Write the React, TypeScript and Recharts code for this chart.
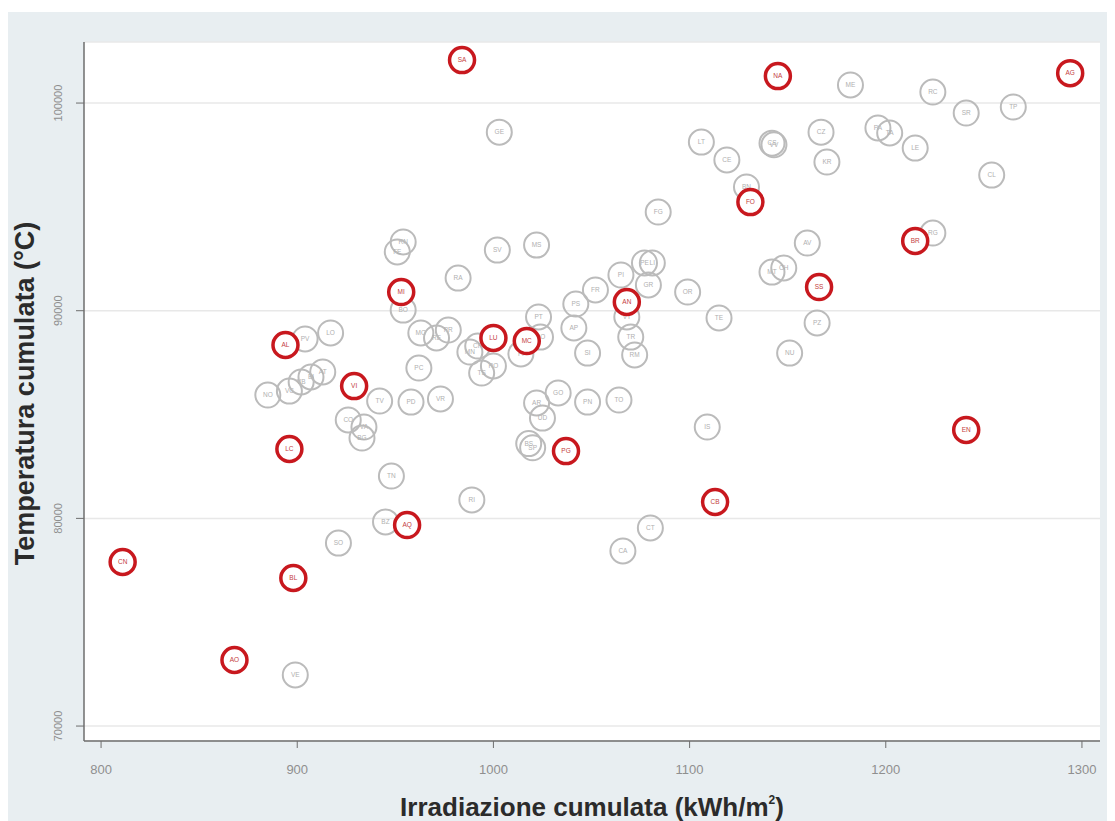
import React from "react";
import { ScatterChart, Scatter, XAxis, YAxis, CartesianGrid, Label } from "recharts";

// province codes, cumulative irradiance (kWh/m2) and cumulative temperature (°C)
const grayCodes = [
  "GE", "ME", "RC", "TP", "SR", "LT", "CE", "CS", "VV", "CZ", "KR", "PA", "TA", "LE", "CL", "BN",
  "RG", "AV", "FG", "MT", "CH", "PZ", "NU", "OR", "TE", "IS", "PE", "LI", "GR", "PI", "FR", "PS",
  "AP", "SI", "VT", "TR", "RM", "SV", "MS", "RA", "RN", "FE", "BO", "PV", "LO", "NO", "VC", "VB",
  "BI", "AT", "TV", "CO", "VA", "BG", "MO", "RE", "PR", "PC", "PD", "VR", "PT", "PO", "FI", "MN",
  "CR", "RO", "TS", "AR", "UD", "GO", "PN", "TO", "BS", "SP", "TN", "BZ", "SO", "RI", "CA", "CT", "VE",
];
const grayIrr = [
  1003, 1182, 1224, 1265, 1241, 1106, 1119, 1142, 1143, 1167, 1170, 1196, 1202, 1215, 1254, 1129,
  1224, 1160, 1084, 1142, 1148, 1165, 1151, 1099, 1115, 1109, 1077, 1081, 1079, 1065, 1052, 1042,
  1041, 1048, 1068, 1070, 1072, 1002, 1022, 982, 954, 951, 954, 904, 917, 885, 896, 902,
  907, 913, 942, 926, 934, 933, 963, 971, 977, 962, 958, 973, 1023, 1024, 1014, 988,
  992, 1000, 994, 1022, 1025, 1033, 1048, 1064, 1018, 1020, 948, 945, 921, 989, 1066, 1080, 899,
];
const grayTemp = [
  98600, 100870, 100530, 99810, 99520, 98120, 97260, 98070, 97990, 98600, 97160, 98800, 98560, 97830, 96530, 95960,
  93740, 93260, 94750, 91860, 92060, 89410, 87960, 90900, 89650, 84400, 92300, 92300, 91240, 91720, 91000, 90320,
  89170, 87960, 89700, 88730, 87870, 92920, 93160, 91570, 93310, 92830, 90030, 88640, 88930, 85940, 86130, 86570,
  86810, 87050, 85650, 84740, 84400, 83870, 88930, 88690, 89070, 87240, 85600, 85750, 89700, 88730, 87920, 88010,
  88300, 87340, 87000, 85560, 84830, 86040, 85600, 85700, 83600, 83400, 82040, 79830, 78810, 80890, 78430, 79540, 72460,
];

const redCodes = ["SA", "NA", "AG", "FO", "BR", "SS", "MI", "AN", "AL", "LU", "MC", "VI", "EN", "LC", "PG", "CB", "AQ", "CN", "BL", "AO"];
const redIrr = [984, 1145, 1294, 1131, 1215, 1166, 953, 1068, 894, 1000, 1017, 929, 1241, 896, 1037, 1113, 956, 811, 898, 868];
const redTemp = [102070, 101300, 101440, 95230, 93360, 91140, 90900, 90420, 88350, 88690, 88540, 86370, 84260, 83340, 83240, 80790, 79680, 77900, 77130, 73180];

const xTicks = [800, 900, 1000, 1100, 1200, 1300];
const yTicks = [70000, 80000, 90000, 100000];

const grayData = grayCodes.map((code, i) => ({ code, irr: grayIrr[i], temp: grayTemp[i] }));
const redData = redCodes.map((code, i) => ({ code, irr: redIrr[i], temp: redTemp[i] }));

const FONT = "'Liberation Sans', Arial, Helvetica, sans-serif";

const makeMarker = (stroke: string, width: number, fill: string, textColor: string) => (props: any) => {
  const { cx, cy, payload } = props;
  return (
    <g>
      <circle cx={cx} cy={cy} r={12.5} stroke={stroke} strokeWidth={width} fill={fill} />
      <text x={cx} y={cy + 2.2} textAnchor="middle" fontSize={6.5} fontFamily={FONT} fill={textColor}>
        {payload.code}
      </text>
    </g>
  );
};

const grayMarker = makeMarker("#bbbbbb", 2, "none", "#b0b0b0");
const redMarker = makeMarker("#c8181e", 3.5, "#ffffff", "#c44040");

const XTick = ({ x, y, payload }: any) => (
  <text x={x} y={y + 24} textAnchor="middle" fontSize={13} fontFamily={FONT} fill="#8f8f8f">
    {payload.value}
  </text>
);

const YTick = ({ x, y, payload }: any) => (
  <text transform={`translate(${x - 12},${y}) rotate(-90)`} textAnchor="middle" fontSize={11} fontFamily={FONT} fill="#8f8f8f">
    {payload.value}
  </text>
);

const XTitle = ({ viewBox }: any) => (
  <text x={viewBox.x + viewBox.width / 2} y={viewBox.y + 75} textAnchor="middle" fontSize={26} fontWeight="bold" fontFamily={FONT} fill="#2b2b2b">
    Irradiazione cumulata (kWh/m
    <tspan dy={-12} fontSize={12}>2</tspan>
    <tspan dy={12}>)</tspan>
  </text>
);

const YTitle = ({ viewBox }: any) => (
  <text transform={`translate(26,${viewBox.y + viewBox.height / 2 + 2}) rotate(-90)`} textAnchor="middle" fontSize={27} fontWeight="bold" fontFamily={FONT} fill="#2b2b2b">
    Temperatura cumulata (°C)
  </text>
);

export default function App() {
  return (
    <div style={{ width: 1102, height: 809, marginTop: 4, background: "#e8eef1" }}>
      <ScatterChart width={1102} height={809} margin={{ top: 30, right: 10, bottom: 0, left: 0 }}>
        <CartesianGrid vertical={false} stroke="#e8e8e8" strokeWidth={1.5} fill="#ffffff" fillOpacity={1} />
        <XAxis
          type="number"
          dataKey="irr"
          domain={[791.3, 1309.2]}
          ticks={xTicks}
          height={80}
          tickSize={7}
          axisLine={{ stroke: "#6e6e6e", strokeWidth: 1.5 }}
          tickLine={{ stroke: "#6e6e6e" }}
          tick={<XTick />}
          allowDataOverflow
        >
          <Label content={XTitle} />
        </XAxis>
        <YAxis
          type="number"
          dataKey="temp"
          domain={[69280, 102940]}
          ticks={yTicks}
          width={76}
          tickSize={8}
          axisLine={{ stroke: "#6e6e6e", strokeWidth: 1.5 }}
          tickLine={{ stroke: "#6e6e6e" }}
          tick={<YTick />}
          allowDataOverflow
        >
          <Label content={YTitle} />
        </YAxis>
        <Scatter data={grayData} shape={grayMarker} isAnimationActive={false} />
        <Scatter data={redData} shape={redMarker} isAnimationActive={false} />
      </ScatterChart>
    </div>
  );
}
